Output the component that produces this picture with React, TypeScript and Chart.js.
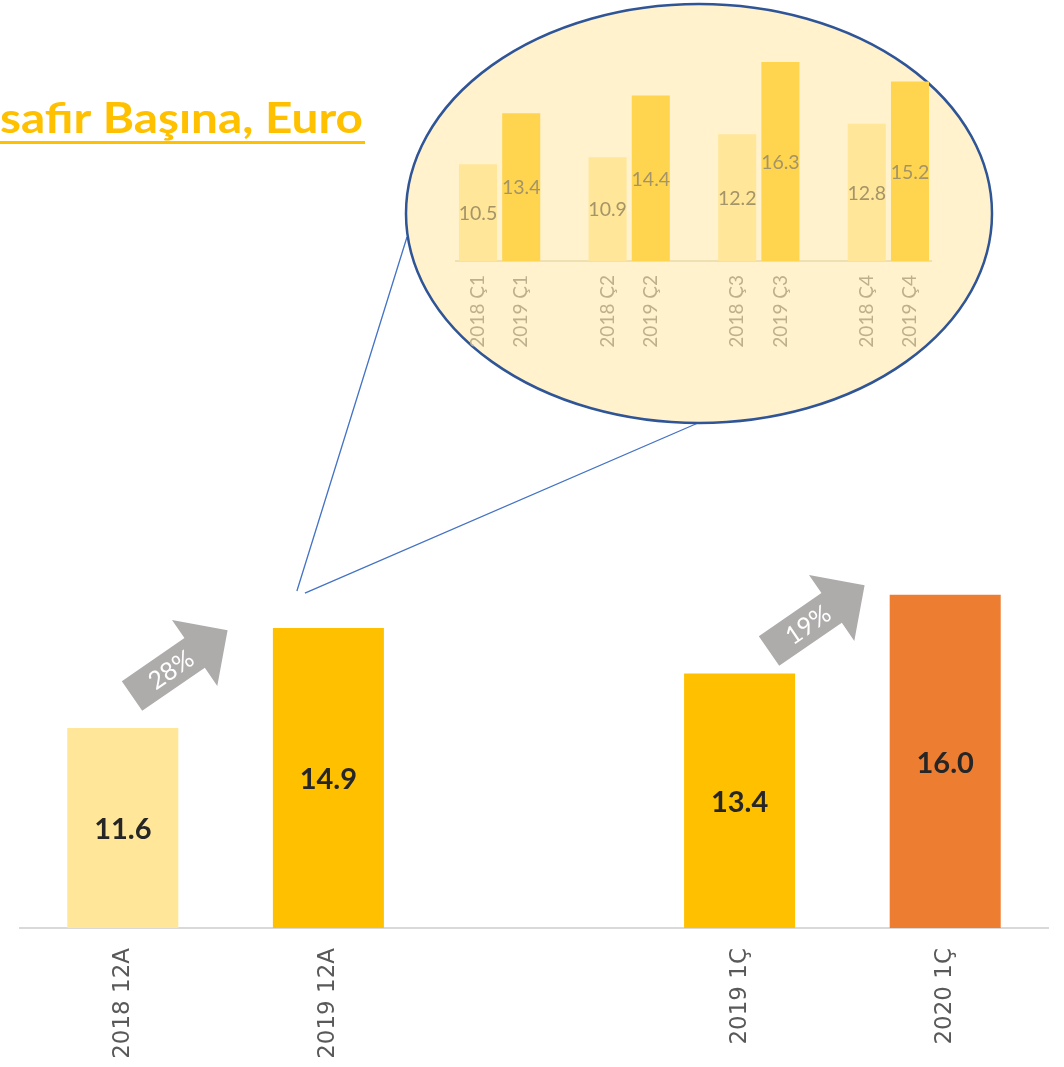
import React, { useEffect, useRef } from 'react';
import { Chart, registerables } from 'chart.js';

Chart.register(...registerables);

// ---- Main chart data ----
const mainCategories = ['2018 12A', '2019 12A', '', '2019 1Ç', '2020 1Ç'];
const mainValues: (number | null)[] = [11.6, 14.9, null, 13.4, 16.0];
const mainColors = ['#FFE699', '#FFC000', '#FFFFFF', '#FFC000', '#ED7D31'];

// ---- Inset (quarterly) data ----
const insetQuarters = ['Ç1', 'Ç2', 'Ç3', 'Ç4'];
const insetYears = ['2018', '2019'];
const insetValues2018 = [10.5, 10.9, 12.2, 12.8];
const insetValues2019 = [13.4, 14.4, 16.3, 15.2];
const insetColors = ['#FFE699', '#FFD44F'];

// ---- Annotations ----
const growthLabels = ['28%', '19%'];
const titleText = 'safir Başına, Euro';

// build inset table (blank spacer category between quarter groups)
const insetLabels: string[] = [];
const insetData: (number | null)[] = [];
const insetBarColors: string[] = [];
insetQuarters.forEach((q, i) => {
  if (i > 0) {
    insetLabels.push('');
    insetData.push(null);
    insetBarColors.push('rgba(0,0,0,0)');
  }
  insetLabels.push(`${insetYears[0]} ${q}`);
  insetData.push(insetValues2018[i]);
  insetBarColors.push(insetColors[0]);
  insetLabels.push(`${insetYears[1]} ${q}`);
  insetData.push(insetValues2019[i]);
  insetBarColors.push(insetColors[1]);
});

const INSET_LEFT = 400;
const INSET_TOP = 0;
const INSET_W = 600;
const INSET_H = 440;

function drawArrow(ctx: CanvasRenderingContext2D, tx: number, ty: number, angleDeg: number, text: string) {
  const len = 116;
  const shaftHalf = 18;
  const headHalf = 40;
  const headLen = 40;
  ctx.save();
  ctx.translate(tx, ty);
  ctx.rotate((angleDeg * Math.PI) / 180);
  ctx.beginPath();
  ctx.moveTo(0, -shaftHalf);
  ctx.lineTo(len - headLen, -shaftHalf);
  ctx.lineTo(len - headLen, -headHalf);
  ctx.lineTo(len, 0);
  ctx.lineTo(len - headLen, headHalf);
  ctx.lineTo(len - headLen, shaftHalf);
  ctx.lineTo(0, shaftHalf);
  ctx.closePath();
  ctx.fillStyle = '#AEABAB';
  ctx.fill();
  ctx.fillStyle = '#FFFFFF';
  ctx.font = '400 25px Lato';
  ctx.textAlign = 'center';
  ctx.textBaseline = 'middle';
  ctx.fillText(text, 47, 1);
  ctx.restore();
}

const mainPlugin = {
  id: 'mainDecor',
  afterDatasetsDraw(chart: any) {
    const ctx: CanvasRenderingContext2D = chart.ctx;
    const meta = chart.getDatasetMeta(0);
    const bottom = chart.chartArea.bottom;
    // value labels
    ctx.save();
    ctx.font = 'bold 29px Lato';
    ctx.fillStyle = '#262626';
    ctx.textAlign = 'center';
    ctx.textBaseline = 'middle';
    meta.data.forEach((el: any, i: number) => {
      const v = mainValues[i];
      if (v == null) return;
      ctx.fillText(v.toFixed(1), el.x, (el.y + bottom) / 2 + 2);
    });
    ctx.restore();

    // title (clipped at left edge)
    ctx.save();
    ctx.font = 'bold 42px Lato';
    const w = ctx.measureText(titleText).width;
    ctx.translate(0, 133);
    ctx.scale(363 / w, 1);
    ctx.fillStyle = '#FFC000';
    ctx.textAlign = 'left';
    ctx.textBaseline = 'alphabetic';
    ctx.fillText(titleText, 0, 0);
    ctx.restore();
    ctx.save();
    ctx.fillStyle = '#FFC000';
    ctx.fillRect(0, 141, 365, 3);
    ctx.restore();

    // growth arrows
    drawArrow(ctx, 132, 696, -34.5, growthLabels[0]);
    drawArrow(ctx, 769, 651, -34.5, growthLabels[1]);

    // zoom connector lines to the inset ellipse
    const b1 = meta.data[1];
    ctx.save();
    ctx.strokeStyle = '#4472C4';
    ctx.lineWidth = 1.3;
    ctx.beginPath();
    ctx.moveTo(b1.x - 31.5, b1.y - 37);
    ctx.lineTo(407, 237);
    ctx.moveTo(b1.x - 23.5, b1.y - 35);
    ctx.lineTo(698, 423);
    ctx.stroke();
    ctx.restore();
  },
};

const insetPlugin = {
  id: 'insetDecor',
  beforeDraw(chart: any) {
    const ctx: CanvasRenderingContext2D = chart.ctx;
    ctx.save();
    ctx.beginPath();
    ctx.ellipse(699 - INSET_LEFT, 213.5 - INSET_TOP, 293, 209.5, 0, 0, Math.PI * 2);
    ctx.fillStyle = '#FFF2CC';
    ctx.fill();
    ctx.lineWidth = 2.5;
    ctx.strokeStyle = '#2F5597';
    ctx.stroke();
    ctx.restore();
  },
  afterDatasetsDraw(chart: any) {
    const ctx: CanvasRenderingContext2D = chart.ctx;
    const meta = chart.getDatasetMeta(0);
    const bottom = chart.chartArea.bottom;
    ctx.save();
    ctx.font = '19.5px Lato';
    ctx.fillStyle = '#A39469';
    ctx.textAlign = 'center';
    ctx.textBaseline = 'middle';
    meta.data.forEach((el: any, i: number) => {
      const v = insetData[i];
      if (v == null) return;
      ctx.fillText(v.toFixed(1), el.x, (el.y + bottom) / 2 + 1);
    });
    ctx.restore();
  },
};

export default function App() {
  const mainRef = useRef<HTMLCanvasElement>(null);
  const insetRef = useRef<HTMLCanvasElement>(null);

  useEffect(() => {
    const main = new Chart(mainRef.current!, {
      type: 'bar',
      data: {
        labels: mainCategories,
        datasets: [
          {
            data: mainValues,
            backgroundColor: mainColors,
            barPercentage: 0.9,
            categoryPercentage: 0.6,
          },
        ],
      },
      options: {
        responsive: false,
        animation: false,
        events: [],
        layout: { padding: { left: 20, right: 16, top: 19, bottom: 0 } },
        plugins: { legend: { display: false }, tooltip: { enabled: false } },
        scales: {
          x: {
            grid: { display: false, drawTicks: false },
            border: { display: true, color: '#D9D9D9', width: 2 },
            ticks: {
              autoSkip: false,
              minRotation: 90,
              maxRotation: 90,
              padding: 20,
              color: '#595959',
              font: { family: 'DejaVu Sans', size: 23 },
            },
            afterFit: (s: any) => {
              s.height = 139;
            },
          },
          y: { display: false, min: 5, max: 35 },
        },
      },
      plugins: [mainPlugin],
    } as any);

    const inset = new Chart(insetRef.current!, {
      type: 'bar',
      data: {
        labels: insetLabels,
        datasets: [
          {
            data: insetData,
            backgroundColor: insetBarColors,
            barPercentage: 1,
            categoryPercentage: 0.88,
          },
        ],
      },
      options: {
        responsive: false,
        animation: false,
        events: [],
        layout: { padding: { left: 56.4, right: 68.4, top: 32.2, bottom: 0 } },
        plugins: { legend: { display: false }, tooltip: { enabled: false } },
        scales: {
          x: {
            grid: { display: false, drawTicks: false },
            border: { display: true, color: '#EFE0B4', width: 2 },
            ticks: {
              autoSkip: false,
              minRotation: 90,
              maxRotation: 90,
              padding: 14,
              color: '#BDB08C',
              font: { family: 'Lato', size: 19 },
            },
            afterFit: (s: any) => {
              s.height = INSET_H - 261;
            },
          },
          y: { display: false, min: 5, max: 18 },
        },
      },
      plugins: [insetPlugin],
    } as any);

    return () => {
      main.destroy();
      inset.destroy();
    };
  }, []);

  return (
    <div style={{ position: 'absolute', left: 0, top: 0, width: 1064, height: 1067, background: '#FFFFFF' }}>
      <canvas
        ref={mainRef}
        width={1064}
        height={1067}
        style={{ position: 'absolute', left: 0, top: 0, width: 1064, height: 1067 }}
      />
      <canvas
        ref={insetRef}
        width={INSET_W}
        height={INSET_H}
        style={{ position: 'absolute', left: INSET_LEFT, top: INSET_TOP, width: INSET_W, height: INSET_H }}
      />
    </div>
  );
}
